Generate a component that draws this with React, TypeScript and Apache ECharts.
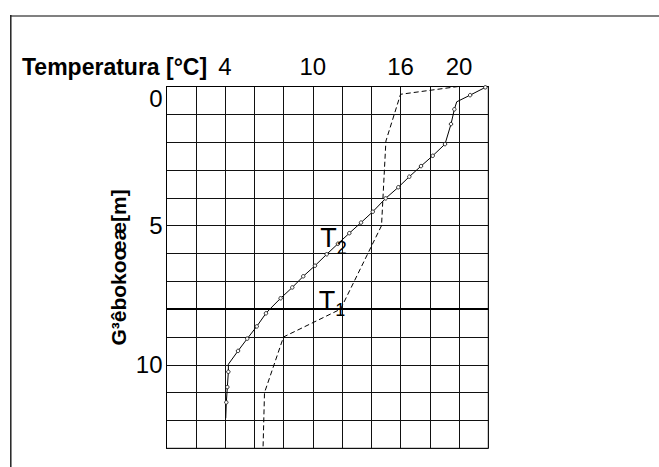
import React, { useEffect, useRef } from "react";
import * as echarts from "echarts";

const FONT = "'Liberation Sans', Arial, Helvetica, sans-serif";

// Axis ticks that carry a label
const xTickLabels = [4, 10, 16, 20];
const yTickLabels = [0, 5, 10];

// T2 profile (solid, with markers): temperature [°C] vs depth [m]
const t2Temp = [21.8, 20.76, 19.84, 19.68, 19.45, 19.04, 18.2, 17.4, 16.6, 15.85, 14.98, 14.1, 13.3, 12.5, 11.72, 10.95, 10.15, 9.35, 8.6, 7.8, 7.12, 6.8, 6.17, 5.52, 4.89, 4.23, 4.23, 4.16, 4.09, 4.05];
const t2Depth = [0.03, 0.31, 0.55, 0.82, 1.35, 2.07, 2.49, 2.86, 3.24, 3.62, 4.02, 4.5, 4.89, 5.27, 5.65, 6.03, 6.44, 6.82, 7.22, 7.61, 7.97, 8.15, 8.62, 9.06, 9.5, 9.98, 10.25, 10.8, 11.35, 11.92];
const t2Unmarked = [2, 20, 25, 29];

// T1 profile (dashed)
const t1Temp = [19.95, 16.0, 15.0, 14.7, 11.9, 8.0, 6.7, 6.6];
const t1Depth = [0.0, 0.28, 1.96, 5.0, 8.0, 9.0, 11.0, 13.0];

// Emphasised depth line
const refDepth = [8];

// Curve labels [temperature, depth]
const labelT2 = [11.42, 5.45];
const labelT1 = [11.31, 7.7];

function curveLabel(sub: string) {
  return {
    show: true,
    position: "inside",
    color: "#000",
    formatter: `{a|T}{b|${sub}}`,
    rich: {
      a: { fontSize: 27, lineHeight: 30, color: "#000", fontFamily: FONT },
      b: { fontSize: 18, lineHeight: 18, padding: [19, 0, 0, 0], color: "#000", fontFamily: FONT },
    },
  };
}

export default function App() {
  const ref = useRef<HTMLDivElement>(null);

  useEffect(() => {
    if (!ref.current) return;
    const chart = echarts.init(ref.current, undefined, { renderer: "svg" });

    const option: any = {
      animation: false,
      backgroundColor: "#fff",
      title: {
        text: "Temperatura [°C]",
        left: 22,
        top: 55,
        padding: 0,
        textStyle: { fontFamily: FONT, fontSize: 23, fontWeight: "bold", color: "#000" },
      },
      graphic: [
        { type: "line", shape: { x1: 10, y1: 16, x2: 659, y2: 16 }, style: { stroke: "#808080", lineWidth: 2 } },
        { type: "line", shape: { x1: 10.8, y1: 15, x2: 10.8, y2: 467 }, style: { stroke: "#222", lineWidth: 1.5 } },
      ],
      grid: {
        left: 166.5,
        top: 86.5,
        right: 170.7,
        bottom: 18.7,
        show: true,
        borderColor: "#000",
        borderWidth: 1,
        backgroundColor: "transparent",
      },
      xAxis: {
        type: "value",
        position: "top",
        min: 0,
        max: 22,
        interval: 2,
        axisLine: { show: true, lineStyle: { color: "#000", width: 1 } },
        axisTick: { show: false },
        axisLabel: {
          margin: 8,
          fontSize: 24,
          color: "#000",
          fontFamily: FONT,
          formatter: (v: number) => (xTickLabels.includes(v) ? String(v) : ""),
        },
        splitLine: { show: true, lineStyle: { color: "#111", width: 1 } },
      },
      yAxis: {
        type: "value",
        inverse: true,
        min: 0,
        max: 13,
        interval: 1,
        name: "G³êbokoœæ[m]",
        nameLocation: "middle",
        nameGap: 38,
        nameTextStyle: { fontSize: 21, fontWeight: "bold", color: "#000", fontFamily: FONT },
        axisLine: { show: true, lineStyle: { color: "#000", width: 1 } },
        axisTick: { show: false },
        axisLabel: {
          margin: 4,
          fontSize: 24,
          color: "#000",
          fontFamily: FONT,
          formatter: (v: number) =>
            v === yTickLabels[0] ? `{z|${v}}` : yTickLabels.includes(v) ? String(v) : "",
          rich: { z: { fontSize: 24, color: "#000", fontFamily: FONT, padding: [24, 0, 0, 0] } },
        },
        splitLine: { show: true, lineStyle: { color: "#111", width: 1 } },
      },
      series: [
        {
          name: "T1",
          type: "line",
          data: t1Temp.map((t, i) => [t, t1Depth[i]]),
          showSymbol: false,
          symbol: "none",
          lineStyle: { color: "#000", width: 1, type: [5, 3] },
          markLine: {
            silent: true,
            symbol: ["none", "none"],
            label: { show: false },
            lineStyle: { color: "#000", width: 2, type: "solid" },
            data: refDepth.map((d) => ({ yAxis: d })),
          },
          markPoint: {
            symbol: "circle",
            symbolSize: 0,
            data: [{ coord: labelT1, label: curveLabel("1") }],
          },
        },
        {
          name: "T2",
          type: "line",
          data: t2Temp.map((t, i) => ({
            value: [t, t2Depth[i]],
            symbol: t2Unmarked.includes(i) ? "none" : "circle",
          })),
          symbolSize: 3.5,
          showSymbol: true,
          lineStyle: { color: "#000", width: 1 },
          itemStyle: { color: "#fff", borderColor: "#000", borderWidth: 0.8 },
          markPoint: {
            symbol: "circle",
            symbolSize: 0,
            data: [{ coord: labelT2, label: curveLabel("2") }],
          },
        },
      ],
    };

    chart.setOption(option);
    return () => chart.dispose();
  }, []);

  return (
    <div
      ref={ref}
      style={{ position: "absolute", left: 0, top: 0, width: 659, height: 467 }}
    />
  );
}
